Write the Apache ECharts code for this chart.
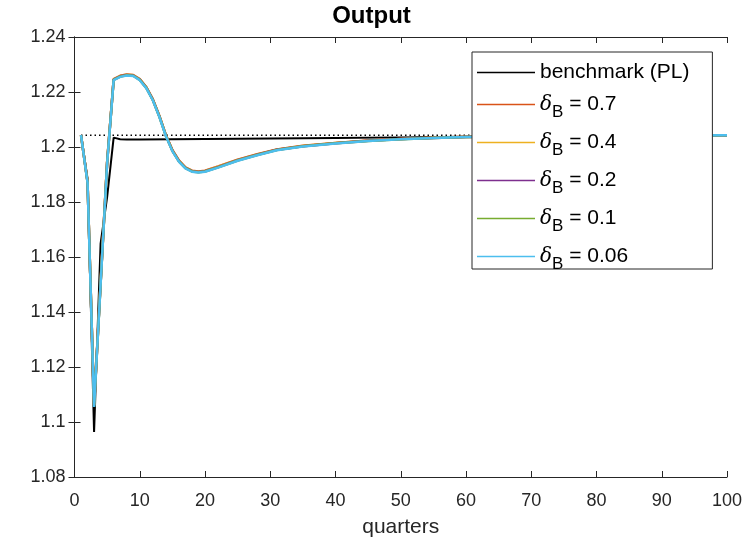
<!DOCTYPE html>
<html>
<head>
<meta charset="utf-8">
<script src="https://cdn.jsdelivr.net/npm/echarts@6/dist/echarts.min.js"></script>
<style>
    html, body { margin: 0; padding: 0; background: #fff; }
</style>
</head>
<body>
<div id="main" style="width: 743px;height:540px;"></div>
<script>
    // data
    var quarters = [1,2,3,4,5,6,7,8,9,10,11,12,13,14,15,16,17,18,19,20,22,25,28,31,35,40,45,50,55,60,70,80,90,100];
    var benchQuarters = [1,2,3,4,5,6,7,8,10,15,20,30,40,50,60,70,80,90,100];
    var benchmark = [1.2043,1.1885,1.0964,1.1649,1.1818,1.2034,1.2028,1.2027,1.2027,1.2028,1.2029,1.2031,1.2033,1.2035,1.2037,1.2039,1.2040,1.2042,1.2043];
    var delta07 = [1.2043,1.1874,1.1063,1.1508,1.1946,1.2247,1.2259,1.2264,1.2262,1.2247,1.2218,1.2174,1.2114,1.2044,1.1989,1.1951,1.1926,1.1914,1.1911,1.1914,1.1929,1.1954,1.1974,1.1991,1.2005,1.2015,1.2024,1.2029,1.2034,1.2037,1.2039,1.2041,1.2042,1.2043];
    var delta04 = [1.2043,1.1873,1.1061,1.1506,1.1945,1.2246,1.2258,1.2263,1.2261,1.2246,1.2217,1.2173,1.2113,1.2043,1.1988,1.1950,1.1925,1.1913,1.1910,1.1913,1.1928,1.1953,1.1973,1.1990,1.2004,1.2015,1.2023,1.2029,1.2034,1.2036,1.2039,1.2041,1.2042,1.2043];
    var delta02 = [1.2043,1.1872,1.1059,1.1504,1.1943,1.2245,1.2257,1.2262,1.2260,1.2245,1.2216,1.2172,1.2112,1.2042,1.1987,1.1949,1.1924,1.1912,1.1909,1.1912,1.1927,1.1952,1.1972,1.1990,1.2003,1.2014,1.2023,1.2029,1.2033,1.2036,1.2039,1.2041,1.2042,1.2043];
    var delta01 = [1.2043,1.1871,1.1057,1.1502,1.1942,1.2244,1.2256,1.2261,1.2259,1.2244,1.2215,1.2171,1.2111,1.2041,1.1986,1.1948,1.1923,1.1911,1.1908,1.1911,1.1926,1.1951,1.1971,1.1989,1.2003,1.2014,1.2022,1.2028,1.2033,1.2036,1.2039,1.2041,1.2042,1.2043];
    var delta006 = [1.2043,1.1870,1.1055,1.1500,1.1940,1.2243,1.2255,1.2260,1.2258,1.2243,1.2214,1.2170,1.2110,1.2040,1.1985,1.1947,1.1922,1.1910,1.1907,1.1910,1.1925,1.1950,1.1970,1.1988,1.2002,1.2013,1.2022,1.2028,1.2033,1.2036,1.2039,1.2041,1.2042,1.2043];
    var steadyState = 1.2043;
    var steadyQuarters = [1, 100];
    var seriesNames = ['benchmark (PL)', 'δB = 0.7', 'δB = 0.4', 'δB = 0.2', 'δB = 0.1', 'δB = 0.06'];
    var seriesColors = ['#000000', '#D95319', '#EDB120', '#7E2F8E', '#77AC30', '#4DBEEE'];

    function pairs(xs, ys) {
        return xs.map(function (x, i) { return [x, ys[i]]; });
    }

    var lineData = [
        pairs(benchQuarters, benchmark),
        pairs(quarters, delta07),
        pairs(quarters, delta04),
        pairs(quarters, delta02),
        pairs(quarters, delta01),
        pairs(quarters, delta006)
    ];

    var axisColor = '#262626';
    var font = 'Liberation Sans';

    var series = [{
        name: 'steady',
        type: 'line',
        symbol: 'none',
        silent: true,
        data: steadyQuarters.map(function (q) { return [q, steadyState]; }),
        lineStyle: { color: '#000', width: 1.5, type: [1.5, 3] }
    }];
    seriesNames.forEach(function (name, i) {
        series.push({
            name: name,
            type: 'line',
            symbol: 'none',
            data: lineData[i],
            color: seriesColors[i],
            lineStyle: { color: seriesColors[i], width: i === 0 ? 2 : 2.5 }
        });
    });

    var myChart = echarts.init(document.getElementById('main'));

    option = {
        animation: false,
        backgroundColor: '#fff',
        title: {
            text: 'Output',
            left: 'center',
            top: 4,
            padding: 0,
            textStyle: { fontFamily: font, fontSize: 24, fontWeight: 'bold', color: '#000' }
        },
        legend: {
            data: seriesNames,
            orient: 'vertical',
            left: 472,
            top: 52,
            padding: [10, 23, -4, 5],
            itemGap: 5,
            itemWidth: 58,
            itemHeight: 1.5,
            icon: 'rect',
            backgroundColor: '#fff',
            borderColor: axisColor,
            borderWidth: 1,
            selectedMode: false,
            formatter: function (name) {
                if (name.indexOf('δB') === 0) {
                    return '{d|δ}{s|B}{t|' + name.slice(2) + '}';
                }
                return '{t|' + name + '}';
            },
            textStyle: {
                fontFamily: font,
                fontSize: 21,
                color: '#000',
                rich: {
                    d: { fontFamily: 'DejaVu Serif', fontStyle: 'italic', fontSize: 20, color: '#000', lineHeight: 33 },
                    s: { fontFamily: font, fontSize: 17, color: '#000', lineHeight: 33, padding: [16, 0, 0, 0] },
                    t: { fontFamily: font, fontSize: 21, color: '#000', lineHeight: 33 }
                }
            }
        },
        grid: {
            left: 74.5,
            right: 16,
            top: 37,
            bottom: 63,
            containLabel: false,
            outerBoundsMode: 'none'
        },
        xAxis: [
            {
                type: 'value',
                min: 0,
                max: 100,
                interval: 10,
                position: 'bottom',
                name: 'quarters',
                nameLocation: 'middle',
                nameGap: 40,
                nameTextStyle: { fontFamily: font, fontSize: 21, color: axisColor },
                axisLine: { show: true, lineStyle: { color: axisColor, width: 1 } },
                axisTick: { show: true, inside: true, length: 6, lineStyle: { color: axisColor } },
                axisLabel: { fontFamily: font, fontSize: 18, color: axisColor, margin: 15 },
                splitLine: { show: false }
            },
            {
                type: 'value',
                min: 0,
                max: 100,
                interval: 10,
                position: 'top',
                axisLine: { show: true, lineStyle: { color: axisColor, width: 1 } },
                axisTick: { show: true, inside: true, length: 6, lineStyle: { color: axisColor } },
                axisLabel: { show: false },
                splitLine: { show: false }
            }
        ],
        yAxis: [
            {
                type: 'value',
                min: 1.08,
                max: 1.24,
                interval: 0.02,
                position: 'left',
                axisLine: { show: true, lineStyle: { color: axisColor, width: 1 } },
                axisTick: { show: true, inside: true, length: 6, lineStyle: { color: axisColor } },
                axisLabel: {
                    fontFamily: font, fontSize: 18, color: axisColor, margin: 9,
                    formatter: function (v) { return String(parseFloat(v.toFixed(2))); }
                },
                splitLine: { show: false }
            },
            {
                type: 'value',
                min: 1.08,
                max: 1.24,
                interval: 0.02,
                position: 'right',
                axisLine: { show: true, lineStyle: { color: axisColor, width: 1 } },
                axisTick: { show: true, inside: true, length: 6, lineStyle: { color: axisColor } },
                axisLabel: { show: false },
                splitLine: { show: false }
            }
        ],
        series: series
    };

    myChart.setOption(option);
</script>
</body>
</html>
